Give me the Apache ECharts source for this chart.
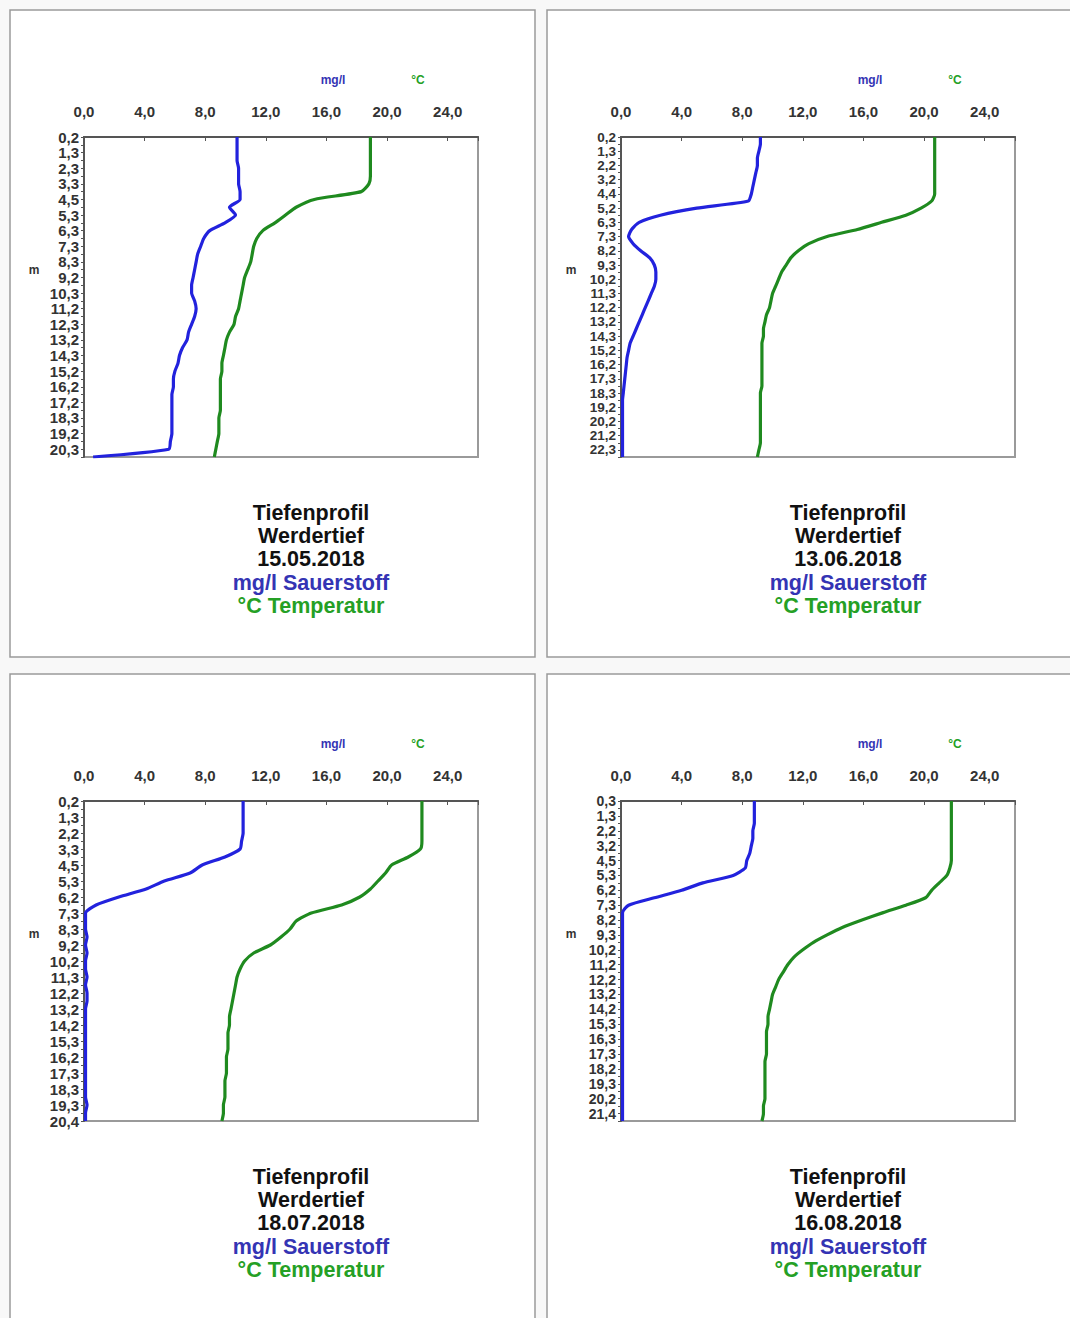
<!DOCTYPE html>
<html><head><meta charset="utf-8">
<script src="https://cdn.jsdelivr.net/npm/echarts@6/dist/echarts.min.js"></script>
<style>html,body{margin:0;padding:0;background:#f8f8f8;}#c{width:1070px;height:1318px;}</style>
</head><body><div id="c"></div>
<script>
// ---- data ----
const dates = ['15.05.2018', '13.06.2018', '18.07.2018', '16.08.2018'];
const xTicks = [0, 4, 8, 12, 16, 20, 24];

const depths1 = [0.2,0.8,1.3,1.8,2.3,2.8,3.3,3.9,4.5,4.9,5.3,5.8,6.3,6.8,7.3,7.8,8.3,8.7,9.2,9.8,10.3,10.7,11.2,11.8,12.3,12.7,13.2,13.8,14.3,14.7,15.2,15.7,16.2,16.7,17.2,17.8,18.3,18.7,19.2,19.8,20.3,20.8];
const oxy1 = [10.1,10.1,10.1,10.1,10.2,10.2,10.2,10.3,10.3,9.6,10.0,9.3,8.3,7.9,7.7,7.5,7.4,7.3,7.2,7.1,7.1,7.3,7.4,7.3,7.1,6.9,6.8,6.5,6.3,6.2,6.0,5.9,5.9,5.8,5.8,5.8,5.8,5.8,5.8,5.7,5.6,0.6];
const temp1 = [18.9,18.9,18.9,18.9,18.9,18.9,18.8,18.3,15.2,14.0,13.3,12.6,11.8,11.4,11.2,11.1,11.0,10.8,10.6,10.5,10.4,10.3,10.2,10.0,9.9,9.6,9.4,9.3,9.2,9.1,9.1,9.0,9.0,9.0,9.0,9.0,8.9,8.9,8.9,8.8,8.7,8.6];

const depths2 = [0.2,0.7,1.3,1.7,2.2,2.7,3.2,3.8,4.4,4.8,5.2,5.8,6.3,6.8,7.3,7.7,8.2,8.8,9.3,9.7,10.2,10.8,11.3,11.7,12.2,12.7,13.2,13.8,14.3,14.7,15.2,15.7,16.2,16.8,17.3,17.8,18.3,18.7,19.2,19.7,20.2,20.7,21.2,21.8,22.3,22.8];
const oxy2 = [9.2,9.2,9.1,9.0,9.0,8.9,8.8,8.7,8.6,8.4,5.0,2.6,1.2,0.7,0.5,0.8,1.3,1.9,2.2,2.3,2.3,2.2,2.0,1.8,1.6,1.4,1.2,1.0,0.8,0.6,0.5,0.4,0.35,0.3,0.25,0.2,0.15,0.1,0.1,0.1,0.1,0.1,0.1,0.1,0.1,0.1];
const temp2 = [20.7,20.7,20.7,20.7,20.7,20.7,20.7,20.7,20.7,20.5,19.8,18.8,17.2,15.6,13.6,12.4,11.7,11.2,10.9,10.6,10.4,10.2,10.0,9.9,9.8,9.6,9.5,9.4,9.4,9.3,9.3,9.3,9.3,9.3,9.3,9.3,9.2,9.2,9.2,9.2,9.2,9.2,9.2,9.2,9.1,9.0];

const depths3 = [0.2,0.8,1.3,1.7,2.2,2.8,3.3,3.9,4.5,4.9,5.3,5.7,6.2,6.8,7.3,7.8,8.3,8.7,9.2,9.7,10.2,10.8,11.3,11.7,12.2,12.7,13.2,13.7,14.2,14.8,15.3,15.7,16.2,16.8,17.3,17.8,18.3,18.8,19.3,19.8,20.4];
const oxy3 = [10.5,10.5,10.5,10.5,10.5,10.4,10.3,9.3,7.8,7.0,5.3,4.1,2.3,0.8,0.1,0.1,0.1,0.2,0.1,0.2,0.1,0.1,0.2,0.1,0.2,0.2,0.1,0.1,0.1,0.1,0.1,0.1,0.1,0.1,0.1,0.1,0.1,0.1,0.2,0.1,0.1];
const temp3 = [22.3,22.3,22.3,22.3,22.3,22.3,22.2,21.4,20.3,19.9,19.4,18.9,18.2,17.0,15.0,14.0,13.6,13.0,12.3,11.2,10.6,10.3,10.1,10.0,9.9,9.8,9.7,9.6,9.6,9.5,9.5,9.5,9.4,9.4,9.4,9.3,9.3,9.3,9.2,9.2,9.1];

const depths4 = [0.3,0.8,1.3,1.7,2.2,2.7,3.2,3.8,4.5,4.9,5.3,5.7,6.2,6.8,7.3,7.7,8.2,8.8,9.3,9.7,10.2,10.7,11.2,11.7,12.2,12.7,13.2,13.7,14.2,14.8,15.3,15.8,16.3,16.8,17.3,17.7,18.2,18.8,19.3,19.7,20.2,20.8,21.4,21.9];
const oxy4 = [8.8,8.8,8.8,8.8,8.7,8.7,8.6,8.5,8.3,8.2,7.4,5.4,4.0,2.2,0.5,0.1,0.1,0.1,0.1,0.1,0.1,0.1,0.1,0.1,0.1,0.1,0.1,0.1,0.1,0.1,0.1,0.1,0.1,0.1,0.1,0.1,0.1,0.1,0.1,0.1,0.1,0.1,0.1,0.1];
const temp4 = [21.8,21.8,21.8,21.8,21.8,21.8,21.8,21.8,21.8,21.7,21.5,21.0,20.5,20.1,18.8,17.3,15.9,14.6,13.6,12.7,12.0,11.4,11.0,10.7,10.4,10.2,10.0,9.9,9.8,9.7,9.7,9.6,9.6,9.6,9.6,9.5,9.5,9.5,9.5,9.5,9.5,9.4,9.4,9.3];

const panels = [
  {depths: depths1, oxy: oxy1, temp: temp1},
  {depths: depths2, oxy: oxy2, temp: temp2},
  {depths: depths3, oxy: oxy3, temp: temp3},
  {depths: depths4, oxy: oxy4, temp: temp4}
];

// ---- layout ----
const FONT = '"Liberation Sans", Arial, sans-serif';
const BLUE = '#2222dd', GREEN = '#1f8a1f';
const TXT_BLUE = '#3434b4', TXT_GREEN = '#25a025';
const offs = [[0,0],[537,0],[0,664],[537,664]];
const yFont = [15, 13.5, 15, 14];
const fmt = v => Number(v).toFixed(1).replace('.', ',');

const grids = [], xAxes = [], yAxes = [], series = [], graphics = [];
panels.forEach((p, k) => {
  const [dx, dy] = offs[k];
  graphics.push({type:'rect', shape:{x:10+dx, y:10+dy, width:525, height:(k < 2 ? 647 : 680)}, style:{fill:'#fff', stroke:'#9a9a9a', lineWidth:1.5}, z:-10});
  grids.push({left:84+dx, top:137+dy, width:394, height:320, show:true, borderColor:'#9a9a9a', borderWidth:2, backgroundColor:'#fff'});
  xAxes.push({type:'value', gridIndex:k, position:'top', min:0, max:26, interval:4,
    axisLine:{show:true, lineStyle:{color:'#555', width:2}},
    axisTick:{show:true, inside:true, length:4, lineStyle:{color:'#555'}},
    splitLine:{show:false},
    axisLabel:{margin:18, color:'#333', fontFamily:FONT, fontWeight:'bold', fontSize:15,
      formatter: v => (v % 4 === 0 ? fmt(v) : '')}});
  yAxes.push({type:'category', gridIndex:k, inverse:true, boundaryGap:false, data:p.depths,
    axisLine:{show:true, lineStyle:{color:'#555', width:2}},
    axisTick:{show:true, interval:0, length:3, lineStyle:{color:'#555'}},
    splitLine:{show:false},
    axisLabel:{interval:0, margin:5, color:'#333', fontFamily:FONT, fontWeight:'bold', fontSize:yFont[k], lineHeight:12,
      showMinLabel:true, showMaxLabel:true, hideOverlap:false,
      formatter: (v, i) => (i % 2 === 0 ? fmt(v) : '')}});
  series.push({type:'line', xAxisIndex:k, yAxisIndex:k, data:p.oxy, showSymbol:false, smooth:0.2,
    lineStyle:{color:BLUE, width:3.2}, itemStyle:{color:BLUE}, z:3});
  series.push({type:'line', xAxisIndex:k, yAxisIndex:k, data:p.temp, showSymbol:false, smooth:0.2,
    lineStyle:{color:GREEN, width:3.2}, itemStyle:{color:GREEN}, z:3});
  graphics.push({type:'text', x:333+dx, y:80+dy, style:{text:'mg/l', fill:TXT_BLUE, font:'bold 12px '+FONT, align:'center', verticalAlign:'middle'}});
  graphics.push({type:'text', x:418+dx, y:80+dy, style:{text:'°C', fill:TXT_GREEN, font:'bold 12px '+FONT, align:'center', verticalAlign:'middle'}});
  graphics.push({type:'text', x:34+dx, y:270+dy, style:{text:'m', fill:'#333', font:'bold 12px '+FONT, align:'center', verticalAlign:'middle'}});
  const lines = [['Tiefenprofil','#111'],['Werdertief','#111'],[dates[k],'#111'],['mg/l Sauerstoff',TXT_BLUE],['°C Temperatur',TXT_GREEN]];
  lines.forEach((l, j) => {
    graphics.push({type:'text', x:311+dx, y:513+dy+j*23.2, style:{text:l[0], fill:l[1], font:'bold 21.5px '+FONT, align:'center', verticalAlign:'middle'}});
  });
});

const chart = echarts.init(document.getElementById('c'), null, {renderer:'svg'});
chart.setOption({
  animation:false,
  backgroundColor:'#f8f8f8',
  grid:grids, xAxis:xAxes, yAxis:yAxes, series:series,
  graphic:{elements:graphics}
});
</script></body></html>
